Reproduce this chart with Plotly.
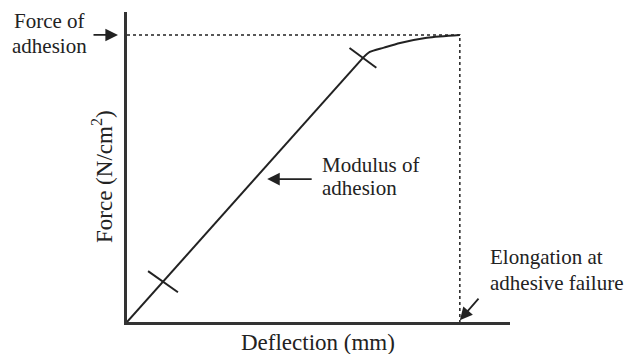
import plotly.graph_objects as go

# readings (arbitrary units, axes have no ticks)
deflection = [0.0, 6.16]                      # linear (elastic) part
force = [0.0, 8.52]
curve_deflection = [6.16, 6.34, 6.71, 7.13, 7.83, 8.69]   # yielding part
curve_force = [8.52, 8.71, 8.85, 9.00, 9.17, 9.26]
tick_deflection = [0.94, 6.16]                # cross marks on the line
tick_half = [(0.39, 0.34), (0.35, 0.32)]

fail_x = curve_deflection[-1]
fail_y = curve_force[-1]
slope = force[1] / deflection[1]

W, H = 625, 354
L, R, T, B = 127, 115, 12, 32
PW, PH = W - L - R, H - T - B
INK = "#222222"
FONT = "Liberation Serif, 'Times New Roman', serif"


def px(x):
    return (x - L) / PW


def py(y):
    return (H - B - y) / PH


fig = go.Figure()

# main line
fig.add_trace(go.Scatter(x=deflection, y=force, mode="lines",
                         line=dict(color=INK, width=2), hoverinfo="skip"))
fig.add_trace(go.Scatter(x=curve_deflection, y=curve_force, mode="lines",
                         line=dict(color=INK, width=2, shape="spline", smoothing=0.8),
                         hoverinfo="skip"))

# cross marks
tx, ty = [], []
for d, (hx, hy) in zip(tick_deflection, tick_half):
    f = d * slope
    tx += [d - hx, d + hx, None]
    ty += [f + hy, f - hy, None]
fig.add_trace(go.Scatter(x=tx, y=ty, mode="lines",
                         line=dict(color=INK, width=2), hoverinfo="skip"))

# dotted guides
fig.add_trace(go.Scatter(x=[0, fail_x, fail_x], y=[fail_y, fail_y, 0], mode="lines",
                         line=dict(color=INK, width=1.5, dash="dot"), hoverinfo="skip"))

annotations = []


def label(text, x, y, size=21, **kw):
    annotations.append(dict(text=text, x=px(x), y=py(y), xref="paper", yref="paper",
                            xanchor=kw.pop("xanchor", "left"), yanchor="middle",
                            showarrow=False, font=dict(family=FONT, size=size, color=INK),
                            **kw))


label("Force of", 12, 21)
label("adhesion", 10, 46)
label("Modulus of", 320, 165)
label("adhesion", 320, 188)
label("Elongation at", 488, 257)
label("adhesive failure", 488, 283)
label("Deflection (mm)", 318, 342, size=23, xanchor="center")
label("Force (N/cm<sup>2</sup>)", 102, 177, size=23, xanchor="center", textangle=-90)

arrow = dict(text="", showarrow=True, arrowhead=2, arrowsize=1.4, arrowwidth=1.8,
             arrowcolor=INK, axref="pixel", ayref="pixel")
annotations.append(dict(arrow, x=px(118), y=fail_y, xref="paper", yref="y", ax=-26, ay=0))
annotations.append(dict(arrow, x=3.66, y=4.61, xref="x", yref="y", ax=46, ay=0))
annotations.append(dict(arrow, x=fail_x, y=0.06, xref="x", yref="y", ax=20, ay=-23))

fig.update_layout(
    width=W, height=H,
    margin=dict(l=L, r=R, t=T, b=B),
    paper_bgcolor="white", plot_bgcolor="white",
    font=dict(family=FONT, color=INK),
    showlegend=False,
    annotations=annotations,
    xaxis=dict(range=[0, 10], showgrid=False, zeroline=False, showticklabels=False,
               ticks="", showline=True, linecolor="#333333", linewidth=2.5, fixedrange=True),
    yaxis=dict(range=[0, 10], showgrid=False, zeroline=False, showticklabels=False,
               ticks="", showline=True, linecolor="#333333", linewidth=2.5, fixedrange=True),
)

# drop the browser's default body margin so the figure sits at the page's top-left corner
fig.write_html("out.html", config={"displayModeBar": False},
               post_script="document.body.style.margin='0';")
